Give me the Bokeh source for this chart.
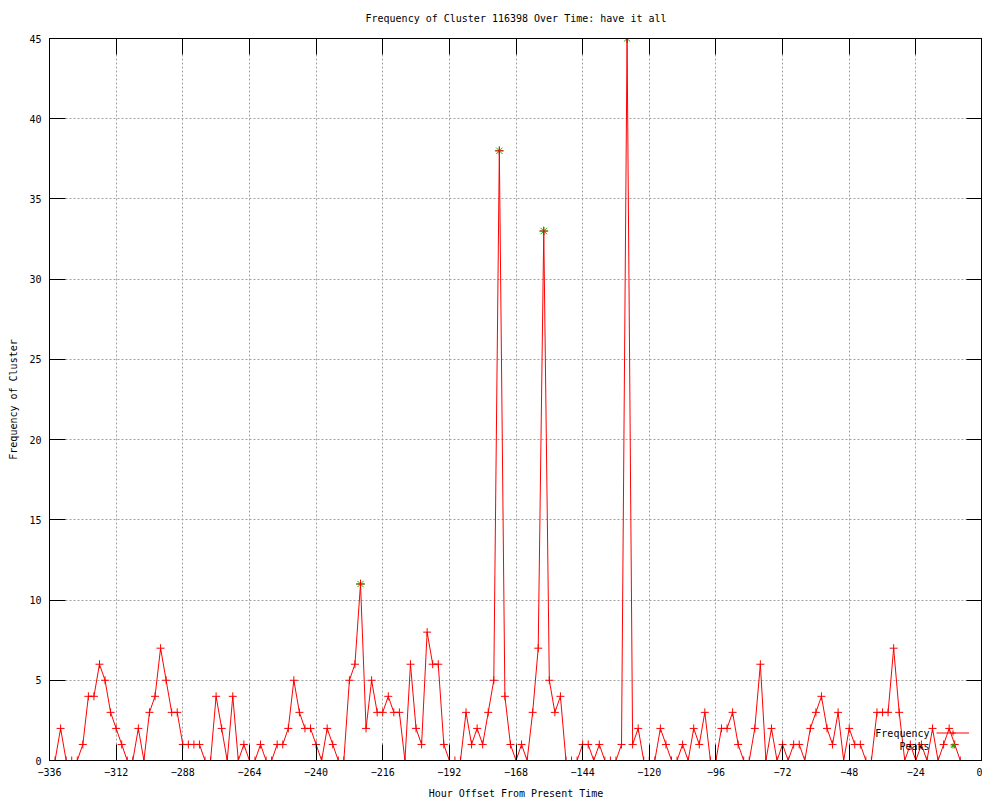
from bokeh.plotting import figure
from bokeh.models import Range1d, FixedTicker, LinearAxis, Legend, LegendItem, Label
from bokeh.embed import file_html
from bokeh.resources import INLINE

# ---------------- data ----------------
hours = list(range(-336, -6, 2))
frequency = [
    0, 0, 2, 0, 0, 0, 1, 4, 4, 6, 5, 3,        # -336 .. -314
    2, 1, 0, 0, 2, 0, 3, 4, 7, 5, 3, 3,        # -312 .. -290
    1, 1, 1, 1, 0, 0, 4, 2, 0, 4, 0, 1,        # -288 .. -266
    0, 0, 1, 0, 0, 1, 1, 2, 5, 3, 2, 2,        # -264 .. -242
    1, 0, 2, 1, 0, 0, 5, 6, 11, 2, 5, 3,       # -240 .. -218
    3, 4, 3, 3, 0, 6, 2, 1, 8, 6, 6, 1,        # -216 .. -194
    0, 0, 0, 3, 1, 2, 1, 3, 5, 38, 4, 1,       # -192 .. -170
    0, 1, 0, 3, 7, 33, 5, 3, 4, 0, 0, 0,       # -168 .. -146
    1, 1, 0, 1, 0, 0, 0, 1, 45, 1, 2, 0,       # -144 .. -122
    0, 0, 2, 1, 0, 0, 1, 0, 2, 1, 3, 0,        # -120 .. -98
    0, 2, 2, 3, 1, 0, 0, 2, 6, 0, 2, 0,        # -96 .. -74
    1, 0, 1, 1, 0, 2, 3, 4, 2, 1, 3, 0,        # -72 .. -50
    2, 1, 1, 0, 0, 3, 3, 3, 7, 3, 0, 1,        # -48 .. -26
    0, 1, 0, 2, 0, 1, 2, 1, 0,                 # -24 .. -8
]
peak_hours = [-224, -174, -158, -128]
peak_values = [11, 38, 33, 45]

x_ticks = [-336, -312, -288, -264, -240, -216, -192, -168, -144, -120, -96, -72, -48, -24, 0]
y_ticks = [0, 5, 10, 15, 20, 25, 30, 35, 40, 45]

TITLE = "Frequency of Cluster 116398 Over Time: have it all"
X_LABEL = "Hour Offset From Present Time"
Y_LABEL = "Frequency of Cluster"
SERIES_LABELS = ["Frequency", "Peaks"]

FONT = "DejaVu Sans Mono"
FS = "10px"

# ---------------- figure ----------------
p = figure(
    frame_width=933, frame_height=722,
    x_range=Range1d(-336, 0), y_range=Range1d(0, 45),
    title=TITLE, x_axis_label=X_LABEL, y_axis_label=Y_LABEL,
    output_backend="svg", toolbar_location=None,
    min_border=0,
)
p.margin = (-5, 0, 0, 5)
p.background_fill_color = "white"
p.border_fill_color = "white"
p.outline_line_color = "black"
p.outline_line_width = 1
p.outline_line_alpha = 1.0

p.title.text_font = FONT
p.title.text_font_size = FS
p.title.text_font_style = "normal"
p.title.align = "center"
p.title.text_color = "black"
p.title.standoff = 30

# mirror axes (top / right), ticks only
top_axis = LinearAxis()
right_axis = LinearAxis()
p.add_layout(top_axis, "above")
p.add_layout(right_axis, "right")

for ax in p.xaxis:
    ax.ticker = FixedTicker(ticks=x_ticks)
for ax in p.yaxis:
    ax.ticker = FixedTicker(ticks=y_ticks)

for ax in p.axis:
    ax.major_tick_in = 16
    ax.major_tick_out = 0
    ax.minor_tick_in = 0
    ax.minor_tick_out = 0
    ax.major_tick_line_color = "black"
    ax.axis_line_color = "black"
    ax.major_label_text_font = FONT
    ax.major_label_text_font_size = FS
    ax.major_label_text_color = "black"
    ax.axis_label_text_font = FONT
    ax.axis_label_text_font_size = FS
    ax.axis_label_text_font_style = "normal"
    ax.axis_label_text_color = "black"

top_axis.major_label_overrides = {t: "" for t in x_ticks}
right_axis.major_label_overrides = {t: "" for t in y_ticks}
for ax in (top_axis, right_axis):
    ax.major_label_text_color = None
    ax.major_label_text_font_size = "1px"
    ax.major_label_standoff = 0
    ax.axis_label = None

p.below[0].major_label_standoff = 7
p.below[0].axis_label_standoff = 9
p.left[0].major_label_standoff = 8
p.left[0].axis_label_standoff = 7

p.grid.grid_line_color = "#a0a0a0"
p.grid.grid_line_dash = "2 2"
p.grid.grid_line_width = 1
p.xgrid.ticker = FixedTicker(ticks=x_ticks)
p.ygrid.ticker = FixedTicker(ticks=y_ticks)

# ---------------- glyphs ----------------
peaks_r = p.scatter(peak_hours, peak_values, marker="asterisk", size=9,
                    line_color="#00c000", line_width=1)
line_r = p.line(hours, frequency, line_color="#ff0000", line_width=1)
pts_r = p.scatter(hours, frequency, marker="cross", size=8,
                  line_color="#ff0000", line_width=1)

# ---------------- legend (gnuplot style: text left of sample) ----------------
legend = Legend(
    items=[LegendItem(label=" ", renderers=[line_r, pts_r]),
           LegendItem(label=" ", renderers=[peaks_r])],
    location=(887, 8),
    glyph_width=33, glyph_height=13, label_height=13, label_width=0,
    label_standoff=0, padding=0, spacing=0, margin=0,
    border_line_color=None, background_fill_alpha=0,
    label_text_font_size="1px",
)
p.add_layout(legend)

for txt, yy in zip(SERIES_LABELS, [27, 14]):
    p.add_layout(Label(x=880, y=yy, x_units="screen", y_units="screen", text=txt,
                       text_align="right", text_baseline="middle",
                       text_font=FONT, text_font_size=FS, text_color="black"))

open("out.html", "w").write(file_html(p, INLINE))
